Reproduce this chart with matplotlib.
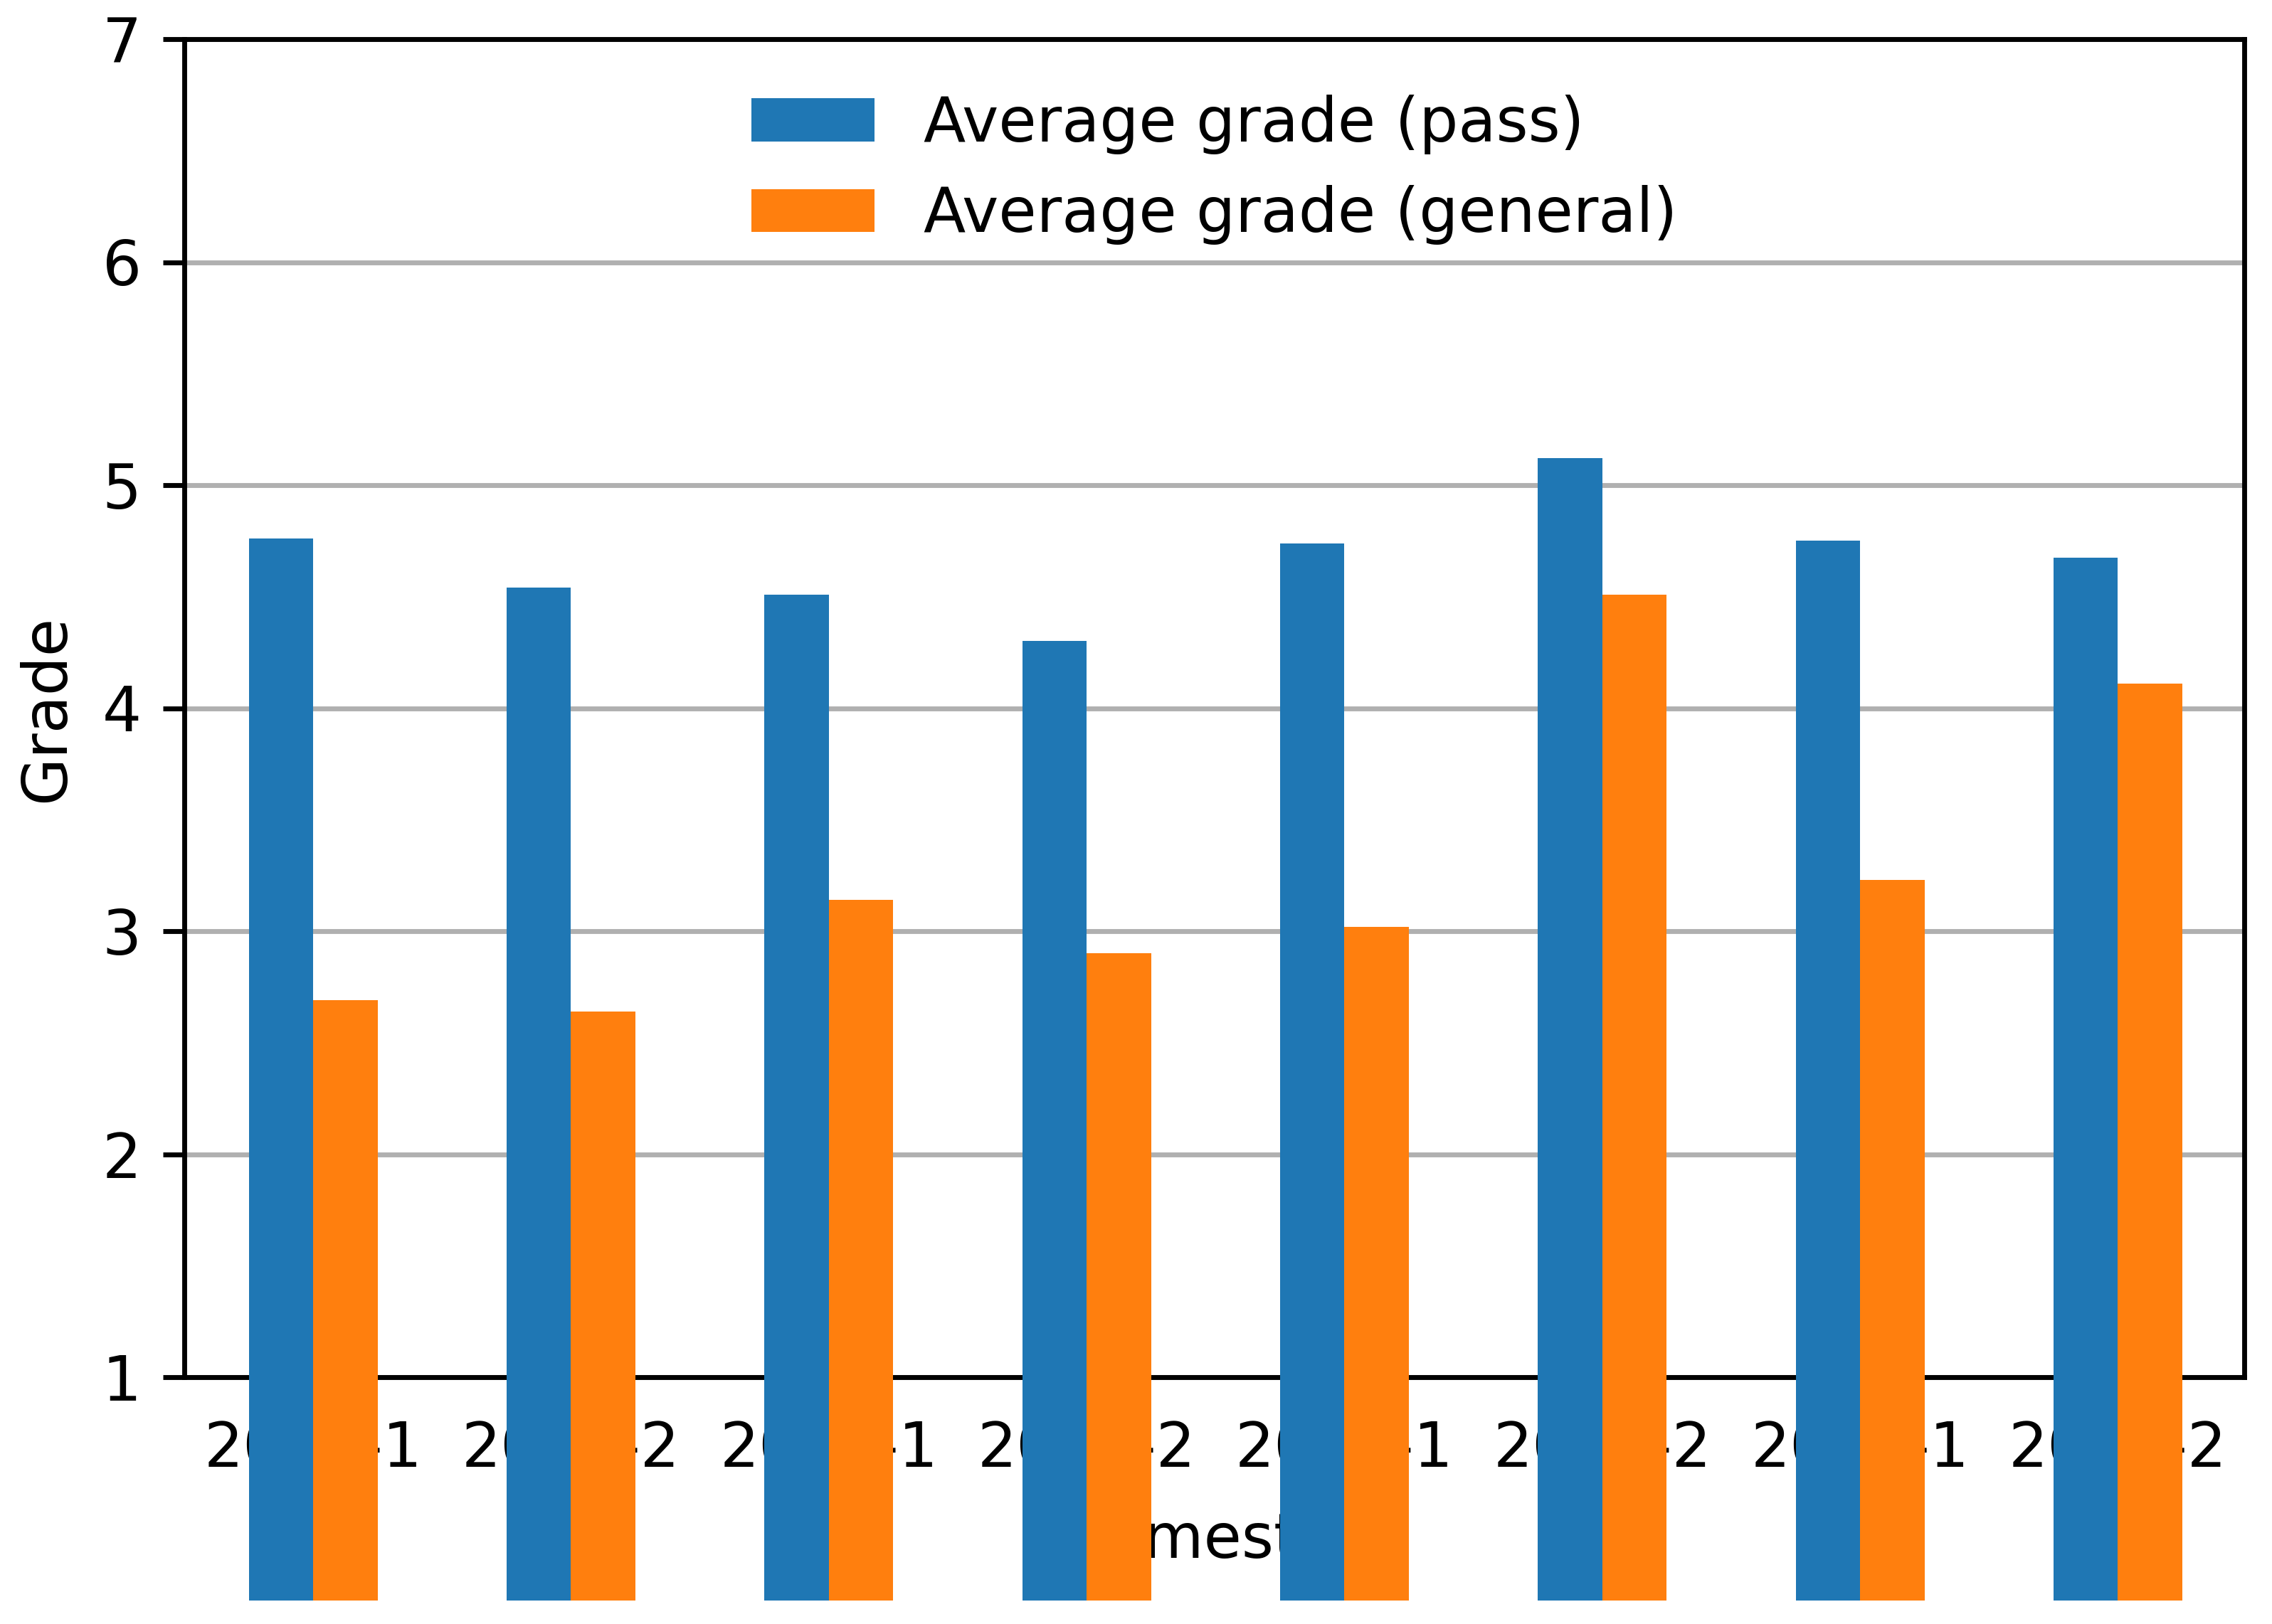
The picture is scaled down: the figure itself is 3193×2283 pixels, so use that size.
import matplotlib
matplotlib.use("Agg")
import matplotlib.pyplot as plt
import numpy as np

semesters = ['2016-1', '2016-2', '2017-1', '2017-2', '2018-1', '2018-2', '2019-1', '2019-2']
avg_pass = [4.76, 4.54, 4.51, 4.30, 4.74, 5.12, 4.75, 4.675]
avg_general = [2.69, 2.64, 3.14, 2.90, 3.02, 4.51, 3.23, 4.11]

k = 2.06  # scale from default sizes
plt.rcParams['font.size'] = 10 * 2.08
plt.rcParams['axes.linewidth'] = 0.8 * k
plt.rcParams['xtick.major.size'] = 3.5 * k
plt.rcParams['ytick.major.size'] = 3.5 * k
plt.rcParams['xtick.major.width'] = 0.8 * k
plt.rcParams['ytick.major.width'] = 0.8 * k
plt.rcParams['xtick.major.pad'] = 3.5 * k
plt.rcParams['ytick.major.pad'] = 3.5 * k

fig = plt.figure(figsize=(3193 / 300, 2283 / 300), dpi=300)
ax = fig.add_axes([259 / 3193, 1 - 1936 / 2283, (3154 - 259) / 3193, (1936 - 55) / 2283])

x = np.arange(len(semesters))
w = 0.25
# bars start at 0 and hang below the axis, drawn over the tick labels
ax.bar(x - w / 2, avg_pass, w, color='#1f77b4', label='Average grade (pass)',
       clip_on=False, zorder=3)
ax.bar(x + w / 2, avg_general, w, color='#ff7f0e', label='Average grade (general)',
       clip_on=False, zorder=3)

ax.set_xticks(x)
ax.set_xticklabels(semesters)
ax.set_xlim(-0.5, 7.49)
ax.set_ylim(1, 7)
ax.set_yticks(range(1, 8))
ax.yaxis.grid(True, color='#b0b0b0', linewidth=0.8 * k)
ax.set_xlabel('Semester', labelpad=10.5)
ax.set_ylabel('Grade', labelpad=8.5)

ax.legend(loc='upper center', frameon=False)

fig.savefig('out.png', dpi=300)
